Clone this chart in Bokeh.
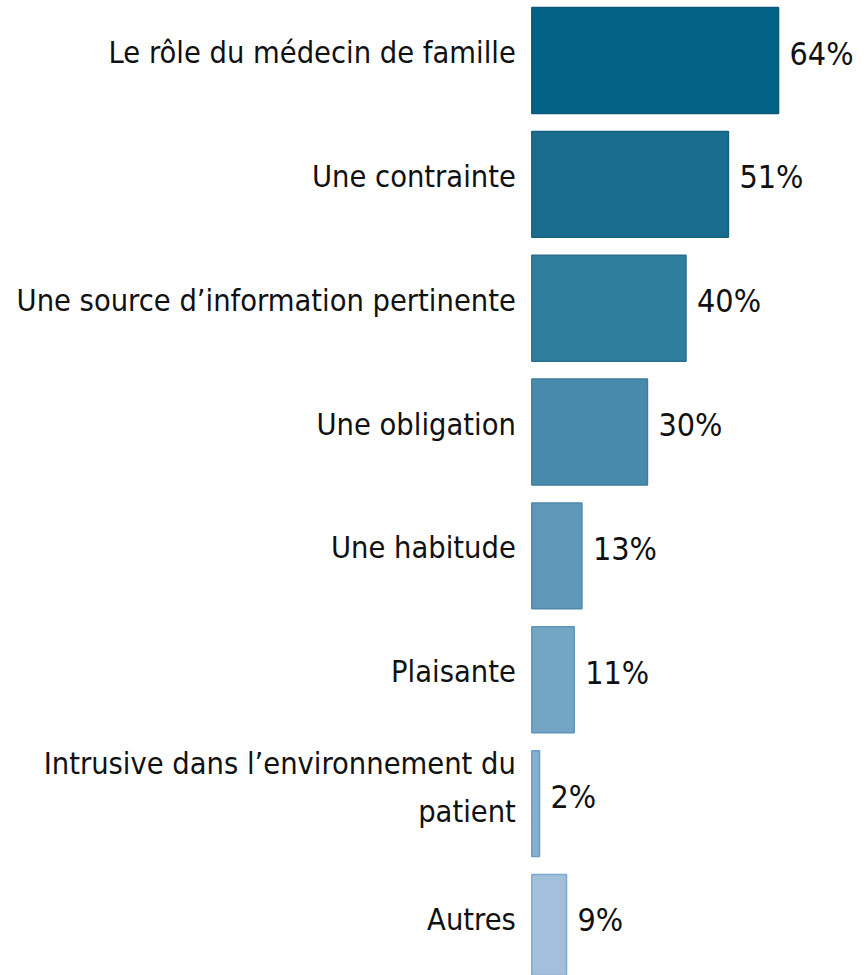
from bokeh.plotting import figure
from bokeh.models import ColumnDataSource, Range1d
from bokeh.core.properties import value
from bokeh.embed import file_html
from bokeh.resources import INLINE

categories = [
    "Le rôle du médecin de famille",
    "Une contrainte",
    "Une source d\u2019information pertinente",
    "Une obligation",
    "Une habitude",
    "Plaisante",
    "Intrusive dans l\u2019environnement du\npatient",
    "Autres",
]
values = [64, 51, 40, 30, 13, 11, 2, 9]
value_labels = ["64%", "51%", "40%", "30%", "13%", "11%", "2%", "9%"]
fill_colors = ["#036387", "#1a6d8f", "#2f7e9d", "#478aab", "#5e97b7", "#74a5c5", "#87afcf", "#a3bfdb"]
line_colors = ["#0b5878", "#14607f", "#296f8d", "#3d7c9c", "#5189aa", "#5f94ba", "#6a9bc4", "#7ea8d0"]

pos = list(range(len(categories)))
cat_offsets = [-16 if "\n" in c else -8 for c in categories]
src = ColumnDataSource(dict(
    y=pos, v=values, cat=categories, lab=value_labels,
    fc=fill_colors, lc=line_colors, zero=[0] * len(pos), cyo=cat_offsets,
))

FONT = "DejaVu Sans Condensed"

p = figure(width=860, height=975, output_backend="svg", toolbar_location=None,
           x_range=Range1d(-137.82, 85.26), y_range=Range1d(7.388, -0.4845),
           min_border=0, min_border_left=0, min_border_right=0,
           min_border_top=0, min_border_bottom=0)
p.axis.visible = False
p.grid.visible = False
p.outline_line_color = None
p.background_fill_color = "white"

p.hbar(y="y", left=0, right="v", height=0.855, source=src,
       fill_color="fc", line_color="lc", line_width=1.5)

p.text(x="zero", y="y", text="cat", source=src, text_align="right",
       text_baseline="middle", x_offset=-16, y_offset="cyo",
       text_font=value(FONT), text_font_size="30.5px", text_color="#111111",
       text_line_height=1.39)

p.text(x="v", y="y", text="lab", source=src, text_align="left",
       text_baseline="middle", x_offset=11, y_offset=-7,
       text_font=value(FONT), text_font_size="32px", text_color="#111111")

open("out.html", "w").write(file_html(p, INLINE))
